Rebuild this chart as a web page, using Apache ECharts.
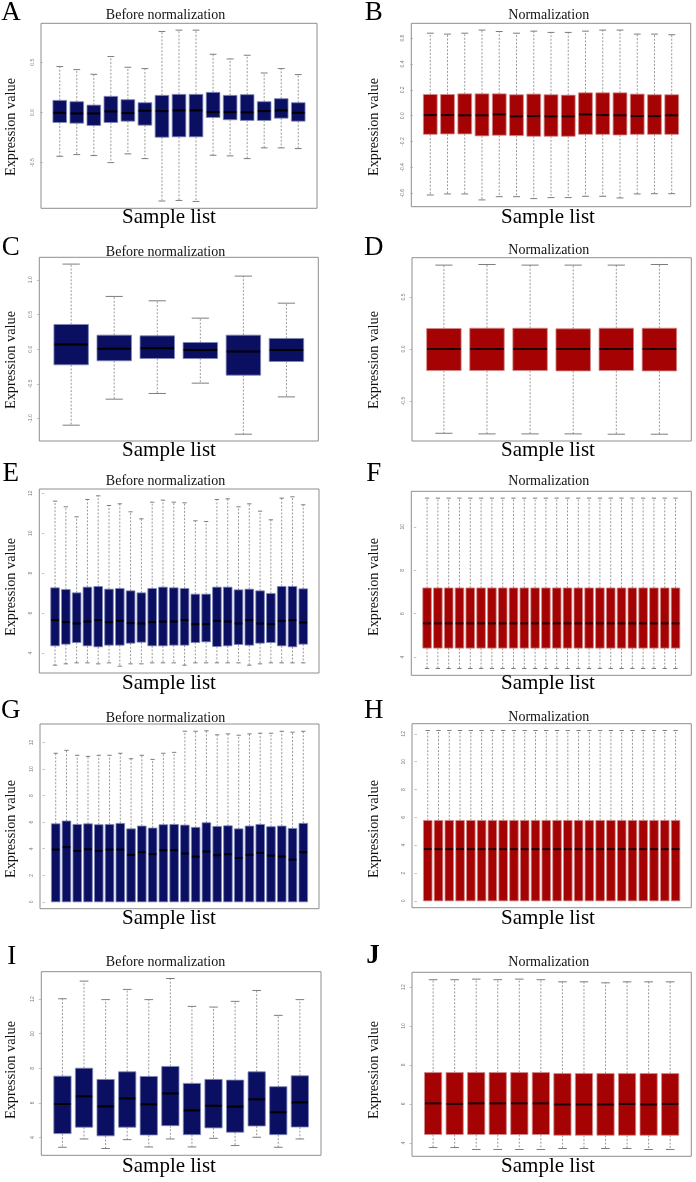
<!DOCTYPE html>
<html>
<head>
<meta charset="utf-8">
<script src="https://cdn.jsdelivr.net/npm/echarts@6/dist/echarts.min.js"></script>
<style>
html,body{margin:0;padding:0;background:#fff;}
#chart{width:696px;height:1182px;}
</style>
</head>
<body>
<div id="chart"></div>
<script>
// ---------- DATA: each box is [min, Q1, median, Q3, max] ----------
const boxesA = [
[-0.437,-0.100,-0.003,0.120,0.457],
[-0.420,-0.107,-0.010,0.107,0.427],
[-0.430,-0.130,-0.010,0.073,0.380],
[-0.500,-0.100,0.010,0.160,0.557],
[-0.413,-0.087,-0.007,0.127,0.450],
[-0.460,-0.127,0.017,0.097,0.437],
[-0.883,-0.247,0.013,0.170,0.807],
[-0.877,-0.243,0.020,0.180,0.820],
[-0.887,-0.243,0.020,0.180,0.820],
[-0.427,-0.050,0.003,0.200,0.580],
[-0.433,-0.073,0.003,0.170,0.533],
[-0.460,-0.080,0.000,0.177,0.570],
[-0.353,-0.080,0.013,0.107,0.393],
[-0.353,-0.057,0.020,0.137,0.437],
[-0.360,-0.087,-0.003,0.097,0.377]
];
const boxesB = [
[-0.613,-0.144,0.005,0.164,0.638],
[-0.605,-0.141,0.005,0.164,0.631],
[-0.605,-0.141,0.003,0.169,0.638],
[-0.651,-0.156,0.003,0.169,0.662],
[-0.626,-0.151,0.010,0.169,0.651],
[-0.626,-0.154,-0.005,0.162,0.638],
[-0.641,-0.159,-0.003,0.167,0.654],
[-0.633,-0.159,-0.005,0.162,0.644],
[-0.633,-0.159,-0.005,0.159,0.644],
[-0.623,-0.144,0.010,0.177,0.654],
[-0.623,-0.144,0.005,0.177,0.662],
[-0.636,-0.149,0.003,0.177,0.662],
[-0.605,-0.144,-0.003,0.167,0.631],
[-0.603,-0.144,-0.003,0.162,0.631],
[-0.603,-0.144,0.003,0.162,0.626]
];
const boxesC = [
[-1.096,-0.226,0.067,0.356,1.226],
[-0.721,-0.168,0.005,0.202,0.760],
[-0.639,-0.135,0.014,0.192,0.697],
[-0.490,-0.135,-0.014,0.096,0.447],
[-1.226,-0.375,-0.034,0.202,1.053],
[-0.688,-0.178,-0.014,0.154,0.663]
];
const boxesD = [
[-0.809,-0.207,0,0.197,0.806],
[-0.815,-0.207,0,0.200,0.812],
[-0.815,-0.207,0,0.200,0.806],
[-0.815,-0.210,0,0.194,0.806],
[-0.818,-0.207,0,0.200,0.806],
[-0.818,-0.210,0,0.200,0.812]
];
const boxesE = [
[3.400,4.367,5.650,7.267,11.600],
[3.467,4.450,5.550,7.183,11.317],
[3.517,4.533,5.483,7.017,10.817],
[3.517,4.367,5.583,7.300,11.683],
[3.467,4.317,5.650,7.333,11.867],
[3.517,4.400,5.550,7.200,11.383],
[3.350,4.400,5.617,7.233,11.467],
[3.467,4.500,5.500,7.117,11.067],
[3.467,4.550,5.483,7.017,10.717],
[3.517,4.367,5.550,7.233,11.550],
[3.517,4.367,5.583,7.300,11.650],
[3.517,4.400,5.583,7.267,11.550],
[3.400,4.400,5.650,7.233,11.517],
[3.517,4.533,5.450,6.950,10.617],
[3.517,4.567,5.450,6.950,10.583],
[3.517,4.333,5.617,7.300,11.683],
[3.517,4.367,5.583,7.300,11.717],
[3.517,4.433,5.483,7.167,11.317],
[3.400,4.400,5.650,7.200,11.467],
[3.467,4.500,5.483,7.117,11.100],
[3.517,4.533,5.450,6.983,10.667],
[3.517,4.367,5.617,7.333,11.750],
[3.517,4.317,5.650,7.333,11.817],
[3.517,4.450,5.533,7.217,11.417]
];
const boxesF = [
[3.477,4.415,5.554,7.185,11.323],[3.477,4.415,5.554,7.185,11.323],
[3.477,4.415,5.554,7.185,11.323],[3.477,4.415,5.554,7.185,11.323],
[3.477,4.415,5.554,7.185,11.323],[3.477,4.415,5.554,7.185,11.323],
[3.477,4.415,5.554,7.185,11.323],[3.477,4.415,5.554,7.185,11.323],
[3.477,4.415,5.554,7.185,11.323],[3.477,4.415,5.554,7.185,11.323],
[3.477,4.415,5.554,7.185,11.323],[3.477,4.415,5.554,7.185,11.323],
[3.477,4.415,5.554,7.185,11.323],[3.477,4.415,5.554,7.185,11.323],
[3.477,4.415,5.554,7.185,11.323],[3.477,4.415,5.554,7.185,11.323],
[3.477,4.415,5.554,7.185,11.323],[3.477,4.415,5.554,7.185,11.323],
[3.477,4.415,5.554,7.185,11.323],[3.477,4.415,5.554,7.185,11.323],
[3.477,4.415,5.554,7.185,11.323],[3.477,4.415,5.554,7.185,11.323],
[3.477,4.415,5.554,7.185,11.323],[3.477,4.415,5.554,7.185,11.323]
];
const boxesG = [
[0,0,3.94,5.88,11.19],
[0,0,4.12,6.09,11.41],
[0,0,3.84,5.83,11.04],
[0,0,3.96,5.88,10.96],
[0,0,3.84,5.81,11.04],
[0,0,3.94,5.83,11.04],
[0,0,3.94,5.91,11.19],
[0,0,3.54,5.50,10.78],
[0,0,3.74,5.71,11.04],
[0,0,3.59,5.56,10.73],
[0,0,3.89,5.81,11.19],
[0,0,3.89,5.83,11.26],
[0,0,3.64,5.78,12.85],
[0,0,3.41,5.61,12.85],
[0,0,3.79,5.96,12.88],
[0,0,3.51,5.68,12.58],
[0,0,3.59,5.73,12.65],
[0,0,3.31,5.50,12.55],
[0,0,3.54,5.71,12.65],
[0,0,3.69,5.83,12.70],
[0,0,3.48,5.66,12.70],
[0,0,3.41,5.71,12.85],
[0,0,3.18,5.53,12.78],
[0,0,3.74,5.91,12.85]
];
const boxesH = [
[0,0,3.72,5.78,12.24],[0,0,3.72,5.78,12.24],[0,0,3.72,5.78,12.24],[0,0,3.72,5.78,12.24],
[0,0,3.72,5.78,12.24],[0,0,3.72,5.78,12.24],[0,0,3.72,5.78,12.24],[0,0,3.72,5.78,12.24],
[0,0,3.72,5.78,12.24],[0,0,3.72,5.78,12.24],[0,0,3.72,5.78,12.24],[0,0,3.72,5.78,12.24],
[0,0,3.72,5.78,12.24],[0,0,3.72,5.78,12.24],[0,0,3.72,5.78,12.24],[0,0,3.72,5.78,12.24],
[0,0,3.72,5.78,12.24],[0,0,3.72,5.78,12.24],[0,0,3.72,5.78,12.24],[0,0,3.72,5.78,12.24],
[0,0,3.72,5.78,12.24],[0,0,3.72,5.78,12.24],[0,0,3.72,5.78,12.24],[0,0,3.72,5.78,12.24]
];
const boxesI = [
[3.44,4.23,5.94,7.55,12.02],
[3.92,4.60,6.38,8.01,13.04],
[3.37,4.10,5.80,7.36,11.97],
[3.88,4.60,6.26,7.80,12.56],
[3.46,4.15,5.92,7.53,11.97],
[3.92,4.69,6.55,8.11,13.19],
[3.46,4.17,5.57,7.13,11.58],
[3.96,4.56,5.84,7.36,11.54],
[3.54,4.31,5.79,7.32,11.87],
[4.02,4.67,6.21,7.80,12.50],
[3.44,4.17,5.46,6.94,11.06],
[3.92,4.61,6.03,7.57,11.97]
];
const boxesJ = [
[3.76,4.43,6.03,7.61,12.38],
[3.76,4.43,6.00,7.61,12.38],
[3.66,4.43,6.03,7.61,12.41],
[3.66,4.43,6.03,7.61,12.38],
[3.66,4.43,6.03,7.61,12.41],
[3.66,4.43,6.03,7.61,12.38],
[3.71,4.39,5.97,7.56,12.27],
[3.71,4.39,5.97,7.56,12.27],
[3.71,4.39,5.97,7.56,12.22],
[3.71,4.39,6.00,7.56,12.27],
[3.66,4.39,5.97,7.56,12.27],
[3.66,4.39,6.00,7.56,12.27]
];

// ---------- tick labels ----------
const ticksA = [-0.5, 0, 0.5];
const ticksB = [-0.6, -0.4, -0.2, 0, 0.2, 0.4, 0.6];
const ticksC = [-1, -0.5, 0, 0.5, 1];
const ticksD = [-0.5, 0, 0.5];
const ticksE = [4, 6, 8, 10, 12];
const ticksF = [4, 6, 8, 10];
const ticksG = [0, 2, 4, 6, 8, 10, 12];
const ticksH = [0, 2, 4, 6, 8, 10, 12];
const ticksI = [4, 6, 8, 10, 12];
const ticksJ = [4, 6, 8, 10, 12];

const titleBefore = 'Before normalization';
const titleAfter = 'Normalization';
const yName = 'Expression value';
const xName = 'Sample list';

// ---------- layout (positions / styles only) ----------
const BLUE = {fill:'#0b0f62', border:'#7d86b6', median:'#000000'};
const RED  = {fill:'#a50303', border:'#d08a8a', median:'#1a0000'};

const panels = [
 {L:'A', d:boxesA, t:ticksA, dec:true,  c:BLUE, title:titleBefore, f:[41,23.3,276,185],     lx:11,  ly:12.5,  tx:165.5, ty:15.7,  nx:11.5, ny:127,  sx:169, sy:217},
 {L:'B', d:boxesB, t:ticksB, dec:true,  c:RED,  title:titleAfter,  f:[411.3,23.3,279.4,183.4], lx:373.8, ly:13.3, tx:548.7, ty:15.7, nx:374, ny:127,  sx:548, sy:217},
 {L:'C', d:boxesC, t:ticksC, dec:true,  c:BLUE, title:titleBefore, f:[39.3,257.3,279,183.7],  lx:10.8, ly:247.5, tx:165.5, ty:252.3, nx:11.5, ny:360,  sx:169, sy:450},
 {L:'D', d:boxesD, t:ticksD, dec:true,  c:RED,  title:titleAfter,  f:[412,257.7,279.3,183.3], lx:373.8, ly:247.5, tx:548.7, ty:250,  nx:374, ny:360,  sx:548, sy:450},
 {L:'E', d:boxesE, t:ticksE, dec:false, c:BLUE, title:titleBefore, f:[39.3,489,279.7,184],    lx:10.8, ly:474.2, tx:165.5, ty:481.7, nx:11.5, ny:587,  sx:169, sy:683},
 {L:'F', d:boxesF, t:ticksF, dec:false, c:RED,  title:titleAfter,  f:[411.3,491.3,280,184],   lx:373.8, ly:474.2, tx:548.7, ty:481.7, nx:374, ny:587, sx:548, sy:683},
 {L:'G', d:boxesG, t:ticksG, dec:false, c:BLUE, title:titleBefore, f:[40,724,279,184.7],      lx:10.8, ly:710.8, tx:165.5, ty:718,   nx:11.5, ny:829,  sx:169, sy:918.5},
 {L:'H', d:boxesH, t:ticksH, dec:false, c:RED,  title:titleAfter,  f:[412,723.7,279.3,184],   lx:373.8, ly:710.8, tx:548.7, ty:717.3, nx:374, ny:829, sx:548, sy:918.5},
 {L:'I', d:boxesI, t:ticksI, dec:false, c:BLUE, title:titleBefore, f:[41.3,971.7,279.7,183.6], lx:11.7, ly:956.7, tx:165.5, ty:962.3, nx:11.5, ny:1070, sx:169, sy:1166},
 {L:'J', d:boxesJ, t:ticksJ, dec:false, c:RED,  title:titleAfter,  f:[412,972.3,279.3,184],   lx:373,  ly:955.8, tx:548.7, ty:962.3, nx:374, ny:1070, sx:548, sy:1166, bold:true}
];

const SERIF = '"Liberation Serif", "Times New Roman", serif';

function makeRender(col) {
  return function (params, api) {
    const x = api.value(0);
    const pMin = api.coord([x, api.value(1)]);
    const pQ1 = api.coord([x, api.value(2)]);
    const pMed = api.coord([x, api.value(3)]);
    const pQ3 = api.coord([x, api.value(4)]);
    const pMax = api.coord([x, api.value(5)]);
    const unit = api.size([1, 0])[0];
    const bw = unit * 0.8, sw = bw * 0.5;
    const cx = pMed[0];
    const whisk = {stroke:'#6e6e6e', lineWidth:0.7, lineDash:[2,1.6], fill:null};
    const cap = {stroke:'#6e6e6e', lineWidth:0.9, fill:null};
    const ch = [];
    if (pMax[1] < pQ3[1] - 0.5) {
      ch.push({type:'line', shape:{x1:cx, y1:pQ3[1], x2:cx, y2:pMax[1]}, style:whisk});
      ch.push({type:'line', shape:{x1:cx-sw/2, y1:pMax[1], x2:cx+sw/2, y2:pMax[1]}, style:cap});
    }
    if (pMin[1] > pQ1[1] + 0.5) {
      ch.push({type:'line', shape:{x1:cx, y1:pQ1[1], x2:cx, y2:pMin[1]}, style:whisk});
      ch.push({type:'line', shape:{x1:cx-sw/2, y1:pMin[1], x2:cx+sw/2, y2:pMin[1]}, style:cap});
    }
    ch.push({type:'rect', shape:{x:cx-bw/2, y:pQ3[1], width:bw, height:pQ1[1]-pQ3[1]},
             style:{fill:col.fill, stroke:col.border, lineWidth:0.8}});
    ch.push({type:'line', shape:{x1:cx-bw/2+0.5, y1:pMed[1], x2:cx+bw/2-0.5, y2:pMed[1]},
             style:{stroke:col.median, lineWidth:2}});
    return {type:'group', children:ch};
  };
}

const grids = [], xAxes = [], yAxes = [], series = [], elements = [];
panels.forEach(function (p, i) {
  const n = p.d.length;
  let lo = Infinity, hi = -Infinity;
  p.d.forEach(function (b) { lo = Math.min(lo, b[0]); hi = Math.max(hi, b[4]); });
  const ext = (hi - lo) * 0.04;
  grids.push({left:p.f[0], top:p.f[1], width:p.f[2], height:p.f[3], show:true,
              borderColor:'#8e8e8e', borderWidth:1, backgroundColor:'transparent'});
  xAxes.push({gridIndex:i, type:'value', min:0.5 - 0.04*n, max:n + 0.5 + 0.04*n, show:false});
  const fmt = p.dec ? function (v) { return Number(v).toFixed(1); } : function (v) { return String(v); };
  yAxes.push({gridIndex:i, type:'value', min:lo - ext, max:hi + ext,
    splitLine:{show:false}, axisLine:{show:false},
    axisTick:{show:true, customValues:p.t, length:2.5, lineStyle:{color:'#9a9a9a', width:0.6}},
    axisLabel:{show:true, customValues:p.t, rotate:90, fontSize:5, color:'#7a7a7a', margin:6,
               fontFamily:'"Liberation Sans", Arial, sans-serif', formatter:fmt}});
  series.push({type:'custom', xAxisIndex:i, yAxisIndex:i, silent:true, clip:false,
    renderItem:makeRender(p.c),
    encode:{x:0, y:[1,2,3,4,5]},
    data:p.d.map(function (b, k) { return [k + 1].concat(b); })});
  elements.push({type:'text', x:p.lx, y:p.ly, style:{text:p.L, fontFamily:SERIF, fontSize:27,
    fontWeight:p.bold ? 'bold' : 'normal', fill:'#000', textAlign:'center', textVerticalAlign:'middle'}});
  elements.push({type:'text', x:p.tx, y:p.ty, style:{text:p.title, fontFamily:SERIF, fontSize:14,
    fill:'#111', textAlign:'center', textVerticalAlign:'middle'}});
  elements.push({type:'text', x:p.nx, y:p.ny, rotation:Math.PI/2, style:{text:yName, fontFamily:SERIF, fontSize:14.3,
    fill:'#111', textAlign:'center', textVerticalAlign:'middle'}});
  elements.push({type:'text', x:p.sx, y:p.sy, style:{text:xName, fontFamily:SERIF, fontSize:21,
    fill:'#000', textAlign:'center', textVerticalAlign:'middle'}});
});

const chart = echarts.init(document.getElementById('chart'), null, {renderer:'canvas'});
chart.setOption({
  animation:false,
  backgroundColor:'#ffffff',
  grid:grids, xAxis:xAxes, yAxis:yAxes, series:series,
  graphic:{elements:elements}
});
</script>
</body>
</html>
